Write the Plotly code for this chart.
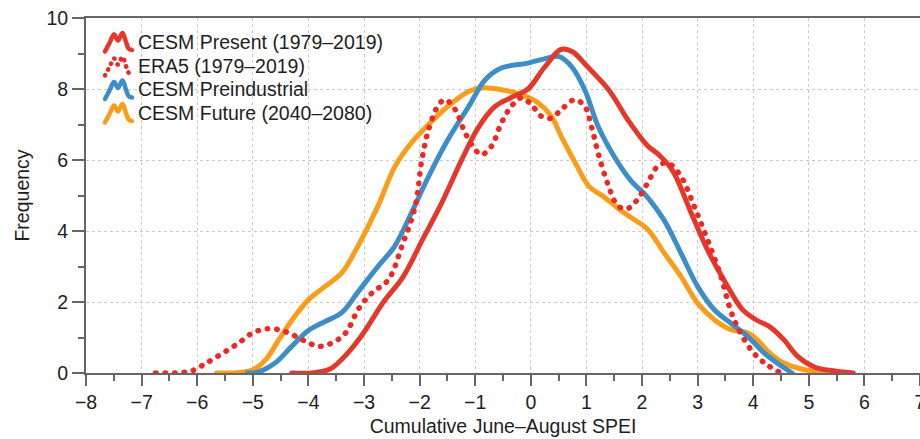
import plotly.graph_objects as go

# ---- data: smoothed frequency distributions of cumulative June–August SPEI ----
present_x = [-4.3, -3.9, -3.6, -3.3, -3.0, -2.65, -2.3, -1.95, -1.6, -1.25, -0.95, -0.65,
             -0.35, -0.05, 0.25, 0.55, 0.75, 1.0, 1.4, 1.75, 2.1, 2.3, 2.55, 2.9, 3.2, 3.5,
             3.8, 4.05, 4.3, 4.55, 4.8, 5.1, 5.4, 5.8]
present_y = [0, 0.01, 0.12, 0.55, 1.15, 2.0, 2.7, 3.75, 4.8, 5.98, 6.9, 7.5,
             7.76, 8.0, 8.62, 9.12, 9.05, 8.66, 7.98, 7.12, 6.4, 6.15, 5.7, 4.45, 3.4, 2.55,
             1.8, 1.5, 1.3, 0.94, 0.47, 0.17, 0.07, 0]

era5_x = [-6.75, -6.3, -6.08, -5.84, -5.54, -5.25, -5.0, -4.77, -4.53, -4.29, -4.05, -3.81,
          -3.57, -3.33, -3.1, -2.86, -2.56, -2.32, -2.08, -1.96, -1.84, -1.66, -1.54, -1.36,
          -1.18, -1.0, -0.89, -0.71, -0.53, -0.35, -0.17, 0.01, 0.19, 0.37, 0.55, 0.79, 0.97,
          1.09, 1.21, 1.39, 1.56, 1.72, 1.9, 2.1, 2.28, 2.46, 2.7, 2.94, 3.18, 3.42, 3.59,
          3.77, 4.01, 4.25, 4.5]
era5_y = [0, 0.01, 0.07, 0.28, 0.56, 0.85, 1.13, 1.24, 1.22, 1.08, 0.89, 0.75,
          0.85, 1.13, 1.8, 2.25, 2.63, 3.57, 4.69, 6.0, 6.85, 7.55, 7.7, 7.42,
          6.76, 6.29, 6.15, 6.38, 7.04, 7.51, 7.75, 7.56, 7.23, 7.18, 7.42, 7.7, 7.51,
          6.95, 6.2, 5.3, 4.72, 4.62, 4.85, 5.35, 5.82, 5.92, 5.54, 4.69, 3.75, 2.72, 1.78,
          1.13, 0.56, 0.23, 0]

preind_x = [-5.1, -4.9, -4.6, -4.3, -4.0, -3.7, -3.4, -3.1, -2.75, -2.45, -2.15, -1.85,
            -1.5, -1.12, -0.82, -0.53, -0.05, 0.3, 0.5, 0.73, 0.97, 1.21, 1.5, 1.8, 2.1,
            2.4, 2.7, 3.0, 3.3, 3.6, 3.9, 4.2, 4.45, 4.7]
preind_y = [0, 0.03, 0.28, 0.75, 1.2, 1.45, 1.7, 2.3, 3.0, 3.57, 4.5, 5.5,
            6.55, 7.5, 8.26, 8.59, 8.73, 8.87, 8.92, 8.64, 7.98, 6.95, 6.1, 5.42, 4.95,
            4.3, 3.38, 2.44, 1.78, 1.4, 1.03, 0.56, 0.26, 0]

future_x = [-5.65, -5.3, -5.0, -4.77, -4.53, -4.29, -4.0, -3.7, -3.4, -3.1, -2.75, -2.45,
            -2.15, -1.85, -1.5, -1.12, -0.89, -0.53, -0.17, 0.13, 0.37, 0.55, 0.8, 1.05,
            1.3, 1.6, 1.85, 2.1, 2.4, 2.7, 3.0, 3.3, 3.6, 3.9, 4.07, 4.3, 4.55, 4.85, 5.3]
future_y = [0, 0.01, 0.09, 0.37, 0.94, 1.5, 2.06, 2.44, 2.82, 3.6, 4.7, 5.8,
            6.48, 6.98, 7.5, 7.93, 8.03, 7.98, 7.84, 7.61, 7.23, 6.66, 5.92, 5.25,
            4.98, 4.6, 4.33, 4.05, 3.38, 2.72, 1.97, 1.5, 1.22, 1.13, 0.94, 0.56, 0.28, 0.12, 0]

names = ["CESM Present (1979\u20132019)", "ERA5 (1979\u20132019)",
         "CESM Preindustrial", "CESM Future (2040\u20132080)"]

x_ticks = list(range(-8, 8))
y_ticks = [0, 2, 4, 6, 8, 10]

RED = "#E3392B"
DOT_RED = "#EC2A23"
BLUE = "#3D8EC6"
ORANGE = "#F89E1B"
AXIS = "#666666"
GRID = "#CACACA"
FONT = "Liberation Sans, Arial, Helvetica, sans-serif"
FS = 19.5

W, H = 920, 439
ML, MR, MT, MB = 86, 0, 18, 66

fig = go.Figure()
for xs, ys, col, dash, w in [
    (future_x, future_y, ORANGE, "solid", 5),
    (preind_x, preind_y, BLUE, "solid", 5),
    (present_x, present_y, RED, "solid", 5),
    (era5_x, era5_y, DOT_RED, "0.5px,9px", 5.5),
]:
    fig.add_trace(go.Scatter(
        x=xs, y=ys, mode="lines",
        line=dict(color=col, width=w, dash=dash, shape="spline", smoothing=1.0),
        showlegend=False, hoverinfo="skip",
    ))

# ---- legend drawn as small bimodal glyphs plus labels ----
pw = W - ML - MR
ph = H - MT - MB


def to_paper(px, py):
    return (px - ML) / pw, (H - MB - py) / ph


def smooth_path(points):
    pts = [to_paper(*p) for p in points]
    d = f"M {pts[0][0]:.5f},{pts[0][1]:.5f}"
    n = len(pts)
    for i in range(n - 1):
        p0 = pts[i - 1] if i > 0 else pts[i]
        p1, p2 = pts[i], pts[i + 1]
        p3 = pts[i + 2] if i + 2 < n else pts[i + 1]
        c1 = (p1[0] + (p2[0] - p0[0]) / 6, p1[1] + (p2[1] - p0[1]) / 6)
        c2 = (p2[0] - (p3[0] - p1[0]) / 6, p2[1] - (p3[1] - p1[1]) / 6)
        d += (f" C {c1[0]:.5f},{c1[1]:.5f} {c2[0]:.5f},{c2[1]:.5f}"
              f" {p2[0]:.5f},{p2[1]:.5f}")
    return d


glyph = [(105.0, 9.5), (109.5, 1.0), (114.0, -7.5), (118.0, -1.5),
         (122.5, -9.0), (126.0, 0.0), (128.5, 6.5), (132.0, 8.0)]
rows = [42, 66, 89.5, 113]
legend_styles = [(RED, "solid", 4.5), (DOT_RED, "0.5px,6px", 4.5),
                 (BLUE, "solid", 4.5), (ORANGE, "solid", 4.5)]

for cy, name, (col, dash, w) in zip(rows, names, legend_styles):
    fig.add_shape(type="path", xref="paper", yref="paper",
                  path=smooth_path([(gx, cy + gy) for gx, gy in glyph]),
                  line=dict(color=col, width=w, dash=dash))
    tx, ty = to_paper(136, cy)
    fig.add_annotation(x=tx, y=ty, xref="paper", yref="paper", text=name,
                       showarrow=False, xanchor="left", yanchor="middle",
                       font=dict(size=FS, color="#1E1E1E", family=FONT))

fig.update_layout(
    template="none",
    width=W, height=H,
    margin=dict(l=ML, r=MR, t=MT, b=MB, pad=0),
    paper_bgcolor="white", plot_bgcolor="white",
    font=dict(family=FONT, size=FS, color="#1E1E1E"),
)
fig.update_xaxes(
    range=[-8, 7], tickvals=x_ticks, ticks="outside", ticklen=11, tickwidth=1.5,
    tickcolor=AXIS, showline=True, linecolor=AXIS, linewidth=2, mirror=True,
    showgrid=True, gridcolor=GRID, gridwidth=1.3, griddash="dot",
    zeroline=False, automargin=False, ticklabeloverflow="allow",
    minor=dict(dtick=0.5, ticks="outside", ticklen=6, tickwidth=1.5,
               tickcolor=AXIS, showgrid=False),
    title=dict(text="Cumulative June\u2013August SPEI", standoff=7,
               font=dict(size=FS)),
)
fig.update_yaxes(
    range=[0, 10], tickvals=y_ticks, ticks="outside", ticklen=12, tickwidth=1.5,
    tickcolor=AXIS, showline=True, linecolor=AXIS, linewidth=2, mirror=True,
    showgrid=True, gridcolor=GRID, gridwidth=1.3, griddash="dot",
    zeroline=False, automargin=False,
    minor=dict(dtick=1, ticks="outside", ticklen=6, tickwidth=1.5,
               tickcolor=AXIS, showgrid=False),
    title=dict(text="Frequency", standoff=12, font=dict(size=FS)),
)

round_caps = (
    "var s=document.createElement('style');"
    "s.textContent='.scatterlayer .js-line, .shapelayer path"
    "{stroke-linecap:round;stroke-linejoin:round}';"
    "document.head.appendChild(s);"
)
fig.write_html("out.html", post_script=round_caps)
